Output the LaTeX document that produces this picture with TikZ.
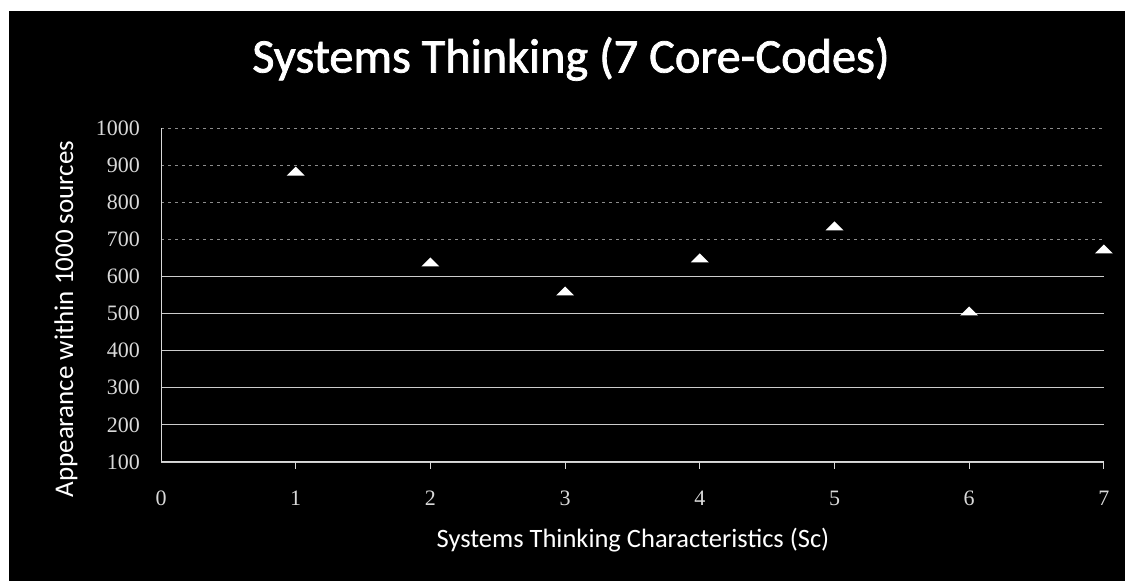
\documentclass[tikz,border=0pt]{standalone}
\usepackage{fontspec}
\setmainfont{Carlito}
\newfontfamily\headfont[BoldFont=Carlito,BoldFeatures={FakeBold=1.6}]{Carlito}
\newfontfamily\tickfont{Liberation Serif}
\begin{document}
\begin{tikzpicture}[x=1pt,y=1pt,
  frame/.style={fill=black},
  grid/.style={draw=white!80!black,line width=0.9pt},
  faintgrid/.style={draw=white!55!black,line width=0.8pt,dash pattern=on 3pt off 4pt},
  axisline/.style={draw=white!85!black,line width=1pt},
  ticklab/.style={text=white!85!black,font=\tickfont\fontsize{22}{22}\selectfont},
  axtitle/.style={text=white},
  marker/.style={fill=white}]
\useasboundingbox (0,0) rectangle (1125,581);
\fill[white] (0,0) rectangle (1125,581);
\fill[frame] (9,0) rectangle (1125,570);

\node[text=white,font=\headfont\bfseries\fontsize{48.3}{48.3}\selectfont] (title) at (571,522) {Systems Thinking (7 Core-Codes)};

\begin{scope}[shift={(161,119)},x=134.7pt,y=0.3711pt]
  % horizontal gridlines and value labels
  \foreach \v in {0,100,...,500}{
    \draw[grid] (0,\v) -- (7,\v);
  }
  \foreach \v in {600,700,800,900}{
    \draw[faintgrid] (0,\v) -- (7,\v);
  }
  \foreach \v in {0,100,...,900}{
    \pgfmathtruncatemacro\lab{\v+100}
    \node[ticklab,anchor=east] (yl\lab) at (-0.13,\v) {\lab};
  }
  % axes
  \draw[axisline] (0,900) -- (0,0) -- (7,0);
  \foreach \i in {1,...,7}{
    \draw[axisline] (\i,0) -- (\i,-20);
  }
  \foreach \i in {0,...,7}{
    \node[ticklab] (xl\i) at (\i,-97) {\i};
  }
  % data points
  \coordinate (p1) at (1,784);
  \coordinate (p2) at (2,539);
  \coordinate (p3) at (3,461);
  \coordinate (p4) at (4,550);
  \coordinate (p5) at (5,636);
  \coordinate (p6) at (6,407);
  \coordinate (p7) at (7,574);
\end{scope}

\foreach \p in {p1,p2,p3,p4,p5,p6,p7}{
  \fill[marker] (\p) ++(-9,-4.5) -- ++(18,0) -- ++(-9,9) -- cycle;
}

\node[axtitle,font=\fontsize{26.5}{26.5}\selectfont] (xtitle) at (633,41) {Systems Thinking Characteristics (Sc)};
\node[axtitle,font=\fontsize{27}{27}\selectfont,rotate=90] (ytitle) at (66,262) {Appearance within 1000 sources};
\end{tikzpicture}
\end{document}
